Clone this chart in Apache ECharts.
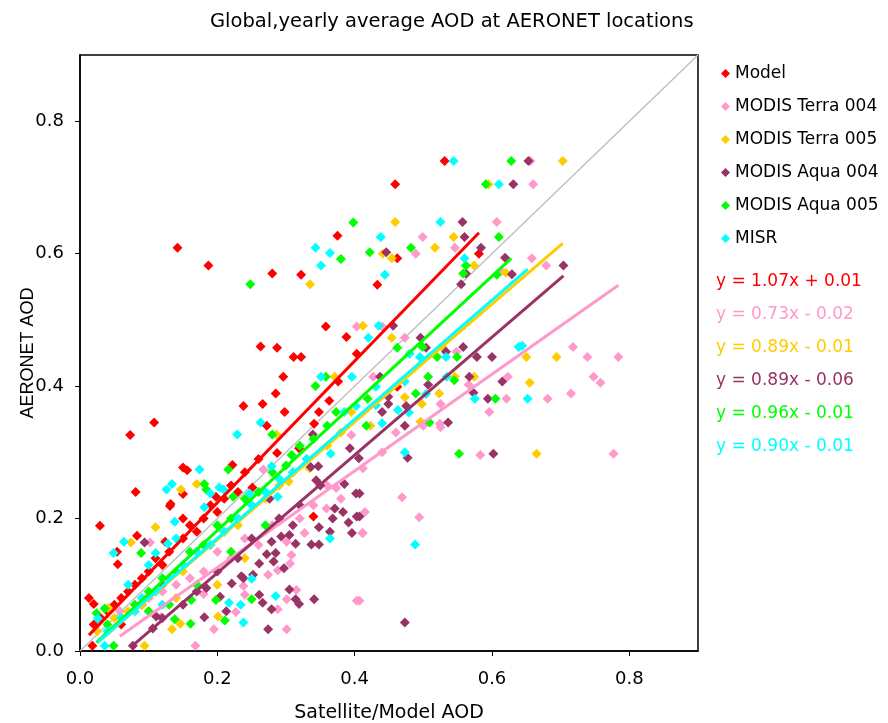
<!DOCTYPE html>
<html>
<head>
<meta charset="utf-8">
<script src="https://cdn.jsdelivr.net/npm/echarts@6/dist/echarts.min.js"></script>
<style>
html,body{margin:0;padding:0;background:#fff;}
#chart{width:888px;height:723px;}
</style>
</head>
<body>
<div id="chart"></div>
<script>
const seriesNames = ['Model', 'MODIS Terra 004', 'MODIS Terra 005', 'MODIS Aqua 004', 'MODIS Aqua 005', 'MISR'];
const colors = ['#ff0000', '#ff99cc', '#ffcc00', '#993366', '#00ff00', '#00ffff'];
// regression slope / offset per series (from legend text)
const slopes = [1.07, 0.73, 0.89, 0.89, 0.96, 0.90];
const offsets = [0.01, -0.02, -0.01, -0.06, -0.01, -0.01];
const ticks = [0, 0.2, 0.4, 0.6, 0.8];

const modelPts = [
  [0.142,0.609],[0.187,0.582],[0.280,0.570],[0.322,0.568],[0.375,0.627],[0.358,0.490],[0.388,0.474],[0.263,0.460],
  [0.287,0.458],[0.311,0.444],[0.322,0.444],[0.296,0.414],[0.403,0.449],[0.531,0.740],[0.459,0.705],[0.462,0.593],
  [0.433,0.553],[0.581,0.600],[0.462,0.399],[0.340,0.203],[0.131,0.219],[0.029,0.189],[0.150,0.200],[0.083,0.174],
  [0.055,0.131],[0.013,0.080],[0.020,0.071],[0.018,0.008],[0.054,0.150],[0.124,0.165],[0.108,0.345],[0.073,0.326],
  [0.150,0.277],[0.156,0.273],[0.081,0.240],[0.150,0.237],[0.198,0.233],[0.132,0.222],[0.285,0.389],[0.238,0.370],
  [0.266,0.373],[0.298,0.361],[0.348,0.361],[0.376,0.407],[0.363,0.378],[0.272,0.340],[0.341,0.343],[0.287,0.299],
  [0.319,0.306],[0.222,0.281],[0.251,0.247],[0.03,0.05],[0.04,0.06],[0.05,0.07],[0.06,0.08],[0.07,0.09],[0.08,0.10],
  [0.09,0.11],[0.10,0.12],[0.11,0.14],[0.12,0.13],[0.13,0.15],[0.15,0.17],[0.16,0.19],[0.17,0.18],[0.18,0.20],
  [0.19,0.22],[0.20,0.21],[0.21,0.23],[0.22,0.25],[0.23,0.24],[0.24,0.27],[0.26,0.29],[0.09,0.07],[0.12,0.10],
  [0.06,0.04],[0.02,0.04]
];
const terra004Pts = [
  [0.656,0.740],[0.660,0.705],[0.607,0.648],[0.499,0.625],[0.546,0.609],[0.489,0.600],[0.613,0.574],[0.473,0.473],
  [0.548,0.452],[0.427,0.414],[0.623,0.414],[0.566,0.402],[0.621,0.381],[0.525,0.373],[0.596,0.361],[0.524,0.343],
  [0.525,0.338],[0.583,0.296],[0.412,0.276],[0.658,0.593],[0.679,0.582],[0.718,0.459],[0.739,0.444],[0.784,0.444],
  [0.748,0.414],[0.758,0.405],[0.715,0.389],[0.681,0.381],[0.777,0.298],[0.469,0.232],[0.415,0.210],[0.494,0.202],
  [0.412,0.178],[0.407,0.076],[0.359,0.215],[0.411,0.178],[0.327,0.178],[0.301,0.165],[0.308,0.145],[0.306,0.132],
  [0.288,0.122],[0.274,0.115],[0.238,0.098],[0.315,0.092],[0.301,0.078],[0.403,0.076],[0.240,0.085],[0.227,0.059],
  [0.288,0.063],[0.301,0.033],[0.102,0.164],[0.168,0.008],[0.195,0.033],[0.180,0.086],[0.118,0.051],[0.403,0.490],
  [0.395,0.326],[0.373,0.246],[0.267,0.274],[0.440,0.490],[0.058,0.060],[0.08,0.07],[0.10,0.08],[0.12,0.09],
  [0.14,0.10],[0.16,0.11],[0.18,0.12],[0.20,0.15],[0.22,0.14],[0.24,0.17],[0.26,0.16],[0.28,0.19],[0.32,0.20],
  [0.34,0.22],[0.36,0.25],[0.38,0.23],[0.44,0.30],[0.46,0.33],[0.50,0.34]
];
const terra005Pts = [
  [0.703,0.740],[0.595,0.705],[0.459,0.648],[0.544,0.625],[0.517,0.609],[0.441,0.600],[0.454,0.593],[0.574,0.582],
  [0.620,0.571],[0.412,0.491],[0.454,0.473],[0.528,0.459],[0.650,0.444],[0.546,0.414],[0.574,0.414],[0.523,0.389],
  [0.473,0.383],[0.498,0.373],[0.423,0.340],[0.496,0.346],[0.694,0.444],[0.655,0.405],[0.665,0.298],[0.335,0.554],
  [0.371,0.414],[0.110,0.187],[0.074,0.164],[0.094,0.008],[0.146,0.041],[0.134,0.033],[0.041,0.065],[0.201,0.052],
  [0.147,0.244],[0.170,0.252],[0.286,0.327],[0.395,0.361],[0.334,0.276],[0.304,0.256],[0.025,0.03],[0.05,0.05],
  [0.07,0.06],[0.09,0.07],[0.11,0.09],[0.13,0.11],[0.15,0.12],[0.17,0.15],[0.19,0.16],[0.21,0.18],[0.23,0.19],
  [0.25,0.22],[0.27,0.23],[0.29,0.25],[0.31,0.27],[0.33,0.29],[0.36,0.31],[0.38,0.33],[0.10,0.06],[0.14,0.08],
  [0.20,0.10],[0.24,0.14]
];
const aqua004Pts = [
  [0.653,0.740],[0.631,0.705],[0.557,0.648],[0.560,0.625],[0.584,0.609],[0.446,0.602],[0.562,0.570],[0.555,0.554],
  [0.619,0.594],[0.629,0.569],[0.456,0.491],[0.496,0.473],[0.504,0.458],[0.558,0.459],[0.578,0.444],[0.600,0.444],
  [0.533,0.452],[0.437,0.414],[0.567,0.414],[0.615,0.407],[0.507,0.402],[0.573,0.390],[0.594,0.381],[0.449,0.384],
  [0.449,0.373],[0.475,0.370],[0.440,0.361],[0.473,0.340],[0.536,0.345],[0.477,0.292],[0.602,0.298],[0.704,0.582],
  [0.473,0.043],[0.407,0.238],[0.407,0.203],[0.371,0.215],[0.383,0.210],[0.368,0.200],[0.391,0.194],[0.403,0.203],
  [0.396,0.178],[0.348,0.187],[0.364,0.180],[0.310,0.190],[0.337,0.161],[0.348,0.161],[0.314,0.162],[0.305,0.175],
  [0.293,0.173],[0.279,0.165],[0.285,0.148],[0.272,0.146],[0.282,0.135],[0.297,0.125],[0.261,0.132],[0.252,0.115],
  [0.238,0.110],[0.221,0.102],[0.305,0.093],[0.341,0.078],[0.314,0.078],[0.319,0.071],[0.261,0.085],[0.266,0.073],
  [0.279,0.063],[0.213,0.060],[0.274,0.033],[0.204,0.082],[0.235,0.113],[0.094,0.164],[0.077,0.008],[0.181,0.051],
  [0.111,0.052],[0.106,0.034],[0.184,0.095],[0.339,0.327],[0.393,0.306],[0.406,0.291],[0.347,0.279],[0.336,0.278],
  [0.344,0.258],[0.385,0.252],[0.402,0.238],[0.276,0.230],[0.12,0.05],[0.15,0.07],[0.17,0.09],[0.20,0.12],
  [0.23,0.14],[0.25,0.17],[0.29,0.20],[0.32,0.22],[0.35,0.25]
];
const aqua005Pts = [
  [0.628,0.740],[0.591,0.705],[0.610,0.625],[0.482,0.609],[0.422,0.602],[0.562,0.582],[0.558,0.570],[0.607,0.568],
  [0.462,0.458],[0.499,0.459],[0.520,0.444],[0.549,0.444],[0.507,0.414],[0.545,0.409],[0.605,0.381],[0.489,0.389],
  [0.419,0.381],[0.417,0.340],[0.509,0.345],[0.552,0.298],[0.248,0.554],[0.380,0.592],[0.398,0.647],[0.358,0.414],
  [0.250,0.078],[0.211,0.046],[0.089,0.148],[0.049,0.008],[0.161,0.041],[0.138,0.048],[0.024,0.057],[0.036,0.064],
  [0.162,0.077],[0.198,0.077],[0.181,0.252],[0.184,0.244],[0.343,0.400],[0.280,0.327],[0.373,0.361],[0.308,0.296],
  [0.216,0.274],[0.223,0.233],[0.04,0.04],[0.06,0.05],[0.08,0.07],[0.10,0.09],[0.12,0.11],[0.14,0.12],[0.16,0.15],
  [0.18,0.16],[0.20,0.19],[0.22,0.20],[0.24,0.23],[0.26,0.24],[0.28,0.27],[0.30,0.28],[0.32,0.31],[0.34,0.32],
  [0.36,0.34],[0.10,0.06],[0.13,0.07],[0.17,0.10],[0.22,0.15],[0.27,0.19]
];
const misrPts = [
  [0.544,0.740],[0.610,0.705],[0.525,0.648],[0.438,0.625],[0.444,0.568],[0.560,0.593],[0.435,0.491],[0.420,0.473],
  [0.639,0.459],[0.644,0.461],[0.533,0.444],[0.495,0.444],[0.480,0.449],[0.534,0.414],[0.431,0.399],[0.473,0.407],
  [0.575,0.381],[0.504,0.388],[0.431,0.371],[0.479,0.360],[0.463,0.364],[0.440,0.344],[0.473,0.300],[0.652,0.381],
  [0.488,0.161],[0.364,0.170],[0.250,0.109],[0.285,0.083],[0.217,0.073],[0.234,0.070],[0.238,0.043],[0.181,0.217],
  [0.064,0.165],[0.049,0.148],[0.138,0.195],[0.128,0.162],[0.110,0.148],[0.036,0.008],[0.026,0.049],[0.343,0.609],
  [0.364,0.601],[0.351,0.582],[0.351,0.414],[0.396,0.414],[0.174,0.274],[0.134,0.252],[0.126,0.244],[0.190,0.238],
  [0.203,0.247],[0.263,0.345],[0.229,0.327],[0.365,0.298],[0.279,0.279],[0.247,0.238],[0.288,0.233],[0.209,0.244],
  [0.402,0.370],[0.385,0.361],[0.04,0.03],[0.06,0.05],[0.08,0.06],[0.09,0.08],[0.11,0.09],[0.13,0.11],[0.15,0.13],
  [0.17,0.15],[0.19,0.16],[0.21,0.18],[0.23,0.20],[0.25,0.22],[0.27,0.24],[0.29,0.26],[0.31,0.27],[0.33,0.29],
  [0.07,0.10],[0.10,0.13],[0.14,0.17],[0.12,0.07]
];
const allPts = [modelPts, terra004Pts, terra005Pts, aqua004Pts, aqua005Pts, misrPts];

const chart = echarts.init(document.getElementById('chart'));
const font = '"DejaVu Sans", sans-serif';

const fmtEq = (a, b) => 'y = ' + a.toFixed(2) + 'x ' + (b >= 0 ? '+ ' : '- ') + Math.abs(b).toFixed(2);

let series = [];
// 1:1 line
series.push({
  type: 'line', data: [[0, 0], [0.9, 0.9]], symbol: 'none', silent: true, z: 1,
  lineStyle: { color: '#c0c0c0', width: 1.5 }
});
allPts.forEach((pts, i) => {
  series.push({
    name: seriesNames[i], type: 'scatter', data: pts, symbol: 'diamond', symbolSize: 10,
    itemStyle: { color: colors[i], opacity: 1 }, z: 2
  });
});
allPts.forEach((pts, i) => {
  const xs = pts.map(p => p[0]);
  const x0 = Math.min(...xs), x1 = Math.max(...xs);
  series.push({
    type: 'line', symbol: 'none', silent: true, z: 3,
    data: [[x0, slopes[i] * x0 + offsets[i]], [x1, slopes[i] * x1 + offsets[i]]],
    lineStyle: { color: colors[i], width: 3 }
  });
});

let eqTexts = slopes.map((a, i) => ({
  type: 'text', left: 716, top: 273 + i * 33,
  style: { text: fmtEq(a, offsets[i]), fill: colors[i], font: '17px ' + font }
}));

let option = {
  animation: false,
  title: {
    text: 'Global,yearly average AOD at AERONET locations',
    left: 205, top: 7,
    textStyle: { fontSize: 19.5, fontWeight: 'normal', color: '#000', fontFamily: 'DejaVu Sans' }
  },
  grid: {
    left: 80, right: 190, top: 55, bottom: 72, outerBoundsMode: 'none',
    show: true, borderColor: '#000', borderWidth: 1.5
  },
  legend: {
    orient: 'vertical', left: 716, top: 60, itemGap: 16, itemWidth: 9, itemHeight: 9,
    icon: 'diamond', data: seriesNames,
    textStyle: { fontSize: 17, color: '#000', fontFamily: 'DejaVu Sans' }
  },
  xAxis: {
    type: 'value', min: 0, max: 0.9, interval: 0.2,
    name: 'Satellite/Model AOD', nameLocation: 'middle', nameGap: 53,
    nameTextStyle: { fontSize: 19, color: '#000', fontFamily: 'DejaVu Sans' },
    splitLine: { show: false },
    axisLine: { show: true, lineStyle: { color: '#000', width: 1.5 } },
    axisTick: { show: true, length: 5, lineStyle: { color: '#000' }, customValues: ticks },
    axisLabel: { customValues: ticks, formatter: v => v.toFixed(1), fontSize: 18, color: '#000', margin: 19, fontFamily: 'DejaVu Sans' }
  },
  yAxis: {
    type: 'value', min: 0, max: 0.9, interval: 0.2,
    name: 'AERONET AOD', nameLocation: 'middle', nameGap: 43, nameMoveOverlap: false,
    nameTextStyle: { fontSize: 18, color: '#000', fontFamily: 'Liberation Sans' },
    splitLine: { show: false },
    axisLine: { show: true, lineStyle: { color: '#000', width: 1.5 } },
    axisTick: { show: true, length: 5, lineStyle: { color: '#000' }, customValues: ticks },
    axisLabel: { customValues: ticks, formatter: v => v.toFixed(1), fontSize: 18, color: '#000', margin: 16, fontFamily: 'DejaVu Sans' }
  },
  graphic: eqTexts,
  series
};
chart.setOption(option);
</script>
</body>
</html>
